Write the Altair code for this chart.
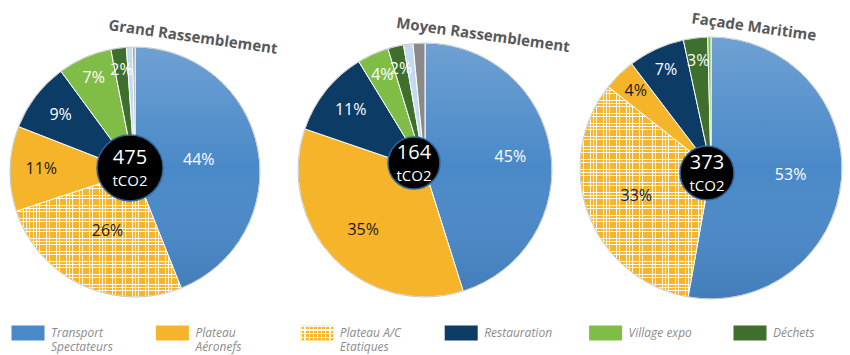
import math
import altair as alt
import pandas as pd

# ---------------- data ----------------
pie_titles = ["Grand Rassemblement", "Moyen Rassemblement", "Façade Maritime"]
pie_totals = [475, 164, 373]

# categories of each pie, clockwise from 12 o'clock, with their shares (%)
gr_cats = ["Transport Spectateurs", "Plateau A/C Etatiques", "Plateau Aéronefs",
           "Restauration", "Village expo", "Déchets", "Autres", "Divers"]
gr_vals = [44, 26, 11, 9, 7, 2, 0.8, 0.3]

mr_cats = ["Transport Spectateurs", "Plateau Aéronefs", "Restauration",
           "Village expo", "Déchets", "Autres", "Divers"]
mr_vals = [45, 35, 11, 4, 2, 1.2, 1.5]

fm_cats = ["Transport Spectateurs", "Plateau A/C Etatiques", "Plateau Aéronefs",
           "Restauration", "Déchets", "Village expo"]
fm_vals = [53, 33, 4, 7, 3, 0.4]

legend_cats = ["Transport Spectateurs", "Plateau Aéronefs", "Plateau A/C Etatiques",
               "Restauration", "Village expo", "Déchets"]
legend_labels = ["Transport\nSpectateurs", "Plateau\nAéronefs", "Plateau A/C\nEtatiques",
                 "Restauration", "Village expo", "Déchets"]

# ---------------- styles ----------------
ORANGE = "#F6B42A"
color_domain = ["Transport Spectateurs", "Plateau Aéronefs", "Plateau A/C Etatiques",
                "Restauration", "Village expo", "Déchets", "Autres", "Divers"]
color_range = ["#4A89C8", ORANGE, ORANGE, "#0C3B66", "#80BD47", "#3E6F2C",
               "#C3DAF0", "#8A8A8A"]
color_scale = alt.Scale(domain=color_domain, range=color_range)
theta_scale = alt.Scale(domain=[0, 1], range=[0, 2 * math.pi])
HATCH = "Plateau A/C Etatiques"
FONT = "Open Sans"

shade = alt.LinearGradient(
    gradient="linear", x1=0, x2=0, y1=0, y2=1,
    stops=[alt.GradientStop(offset=0, color="rgba(255,255,255,0.2)"),
           alt.GradientStop(offset=0.5, color="rgba(255,255,255,0)"),
           alt.GradientStop(offset=1, color="rgba(0,20,60,0.1)")])


def stripes(n, vertical, w=0.22, col="rgba(255,255,255,0.92)"):
    clear = "rgba(255,255,255,0)"
    stops = []
    for k in range(n):
        a, b, c = k / n, (k + w) / n, (k + 1) / n
        stops += [alt.GradientStop(offset=a, color=col),
                  alt.GradientStop(offset=b, color=col),
                  alt.GradientStop(offset=b, color=clear),
                  alt.GradientStop(offset=c, color=clear)]
    if vertical:
        return alt.LinearGradient(gradient="linear", stops=stops, x1=0, x2=1, y1=0, y2=0)
    return alt.LinearGradient(gradient="linear", stops=stops, x1=0, x2=0, y1=0, y2=1)


def pie(title, total, cats, vals, cx, cy, r, nv, nh, big, ccx, ccy, cr, tx, ty):
    df = pd.DataFrame({"cat": cats, "value": vals, "ord": list(range(len(cats)))})
    stacked = alt.Chart(df).transform_joinaggregate(
        tot="sum(value)"
    ).transform_window(
        cum="sum(value)", sort=[alt.SortField("ord", order="ascending")], frame=[None, 0]
    ).transform_calculate(
        t1="(datum.cum - datum.value) / datum.tot",
        t2="datum.cum / datum.tot",
        tm="(datum.cum - datum.value / 2) / datum.tot",
    )
    base = stacked.encode(
        theta=alt.Theta("t1:Q", scale=theta_scale),
        theta2="t2:Q",
        x=alt.value(cx), y=alt.value(cy),
    )
    arcs = base.mark_arc(radius=r, stroke="white", strokeWidth=1).encode(
        color=alt.Color("cat:N", scale=color_scale, legend=None))
    sh = base.mark_arc(radius=r, fill=shade).encode(
        opacity=alt.condition(alt.datum.cat == "Transport Spectateurs",
                              alt.value(1), alt.value(0)))
    is_hatch = alt.datum.cat == HATCH
    hv = base.mark_arc(radius=r, fill=stripes(nv, True)).encode(
        opacity=alt.condition(is_hatch, alt.value(1), alt.value(0)))
    hh = base.mark_arc(radius=r, fill=stripes(nh, False)).encode(
        opacity=alt.condition(is_hatch, alt.value(1), alt.value(0)))
    rim = alt.Chart(pd.DataFrame({"t": [title]})).mark_point(
        shape="circle", filled=False, size=(2 * r) ** 2,
        stroke="#C4C4C4", strokeWidth=1, opacity=0.9
    ).encode(x=alt.value(cx), y=alt.value(cy))
    labels = stacked.transform_calculate(
        lbl="datum.value >= 1.8 ? format(datum.value, '.0f') + '%' : ''",
        lr=f"datum.value > 20 ? {big * r} : (datum.value > 8 ? {0.75 * r} : {0.82 * r})",
    ).mark_text(font=FONT, fontSize=16).encode(
        theta=alt.Theta("tm:Q", scale=theta_scale),
        x=alt.value(cx), y=alt.value(cy),
        text="lbl:N",
        radius=alt.Radius("lr:Q", scale=None),
        color=alt.condition(
            (alt.datum.cat == "Plateau Aéronefs") | (alt.datum.cat == HATCH),
            alt.value("#1A1A1A"), alt.value("white")),
    )
    one = alt.Chart(pd.DataFrame({"t": [str(total)], "title": [title]}))
    circle = one.mark_circle(size=(2 * cr) ** 2, color="black", opacity=1,
                             stroke="#2F6497", strokeWidth=1.5).encode(
        x=alt.value(ccx), y=alt.value(ccy))
    num = one.mark_text(font=FONT, fontSize=20, color="white", dy=-10).encode(
        text="t:N", x=alt.value(ccx), y=alt.value(ccy))
    unit = one.mark_text(font=FONT, fontSize=15, color="white", dy=13).encode(
        text=alt.value("tCO2"), x=alt.value(ccx), y=alt.value(ccy))
    ttl = one.mark_text(font=FONT, fontSize=15, fontWeight="bold", color="#595959",
                        angle=8).encode(text="title:N", x=alt.value(tx), y=alt.value(ty))
    return alt.layer(arcs, sh, hv, hh, rim, labels, circle, num, unit, ttl)


p1 = pie(pie_titles[0], pie_totals[0], gr_cats, gr_vals, 135, 172, 125, 50, 38, 0.52,
         130, 168, 33, 193, 37)
p2 = pie(pie_titles[1], pie_totals[1], mr_cats, mr_vals, 425, 170, 127, 50, 38, 0.68,
         414, 163, 26, 483, 35)
p3 = pie(pie_titles[2], pie_totals[2], fm_cats, fm_vals, 711, 168, 131, 40, 64, 0.61,
         707, 173, 27, 754, 27)

# ---------------- legend ----------------
ldf = pd.DataFrame({"cat": legend_cats, "label": legend_labels})
lx = alt.X("cat:N", scale=alt.Scale(type="point", domain=legend_cats, range=[28, 750],
                                    padding=0),
           axis=None)
RECT = "M-1,-0.46H1V0.46H-1Z"
lbase = alt.Chart(ldf).encode(x=lx, y=alt.value(333))
lsq = lbase.mark_point(shape=RECT, size=33 * 33, filled=True, opacity=1).encode(
    color=alt.Color("cat:N", scale=color_scale, legend=None))
is_h = alt.datum.cat == HATCH
lhv = lbase.mark_point(shape=RECT, size=33 * 33, filled=True,
                       fill=stripes(8, True, w=0.35)).encode(
    opacity=alt.condition(is_h, alt.value(1), alt.value(0)))
lhh = lbase.mark_point(shape=RECT, size=33 * 33, filled=True,
                       fill=stripes(4, False, w=0.35)).encode(
    opacity=alt.condition(is_h, alt.value(1), alt.value(0)))
ltxt = lbase.mark_text(font=FONT, fontSize=12, fontStyle="italic", color="#8C8C8C",
                       align="left", baseline="middle", dx=23, lineBreak="\n",
                       lineHeight=14).encode(text="label:N")

chart = alt.layer(p1, p2, p3, lsq, lhv, lhh, ltxt).properties(
    width=850, height=355, padding=0, autosize="none", background="white"
).configure_view(stroke=None)

chart.save("out.html", embed_options={"renderer": "svg", "actions": False})
